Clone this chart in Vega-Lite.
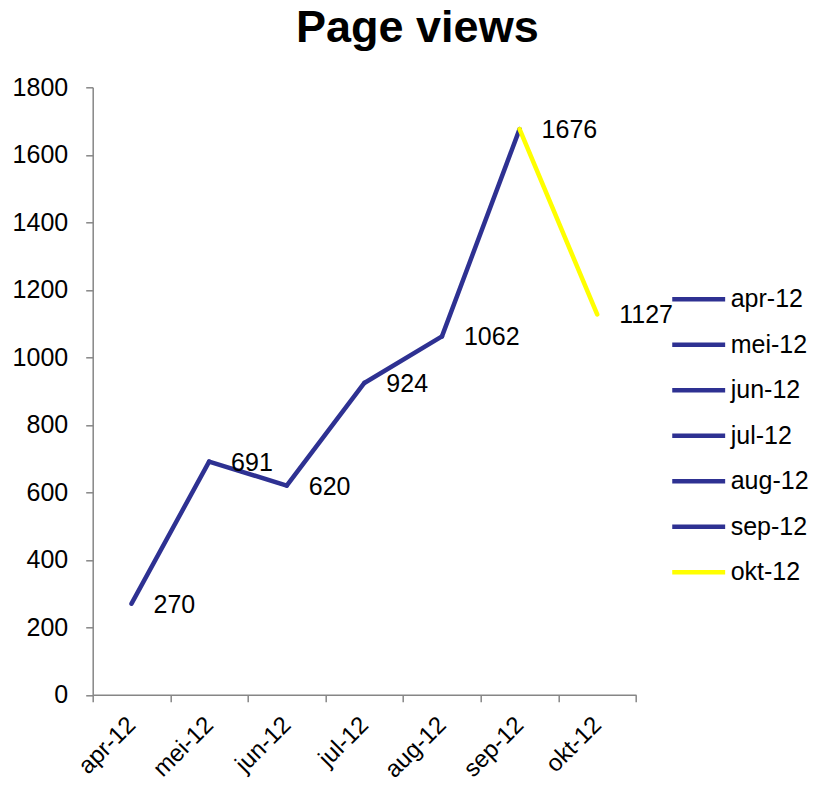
{
  "$schema": "https://vega.github.io/schema/vega-lite/v6.json",
  "autosize": "none",
  "width": 543.3,
  "height": 607.5,
  "padding": {"left": 92.7, "top": 87.3, "right": 179, "bottom": 90.2},
  "background": "white",
  "title": {
    "text": "Page views",
    "font": "Liberation Sans",
    "fontSize": 45,
    "fontWeight": "bold",
    "color": "black",
    "anchor": "middle",
    "frame": "group",
    "baseline": "bottom",
    "offset": 36,
    "dx": 53,
    "dy": 57
  },
  "config": {
    "view": {"stroke": null},
    "font": "Liberation Sans",
    "axis": {
      "grid": false,
      "domainColor": "#868686",
      "domainWidth": 1.5,
      "tickColor": "#868686",
      "tickWidth": 1.5,
      "tickSize": 7,
      "labelFont": "Liberation Sans",
      "labelFontSize": 25,
      "labelColor": "black",
      "title": null
    }
  },
  "datasets": {
    "points": [
      {"month": "apr-12", "views": 270},
      {"month": "mei-12", "views": 691},
      {"month": "jun-12", "views": 620},
      {"month": "jul-12", "views": 924},
      {"month": "aug-12", "views": 1062},
      {"month": "sep-12", "views": 1676},
      {"month": "okt-12", "views": 1127}
    ],
    "segments": [
      {"seg": "mei-12", "month": "apr-12", "views": 270},
      {"seg": "mei-12", "month": "mei-12", "views": 691},
      {"seg": "jun-12", "month": "mei-12", "views": 691},
      {"seg": "jun-12", "month": "jun-12", "views": 620},
      {"seg": "jul-12", "month": "jun-12", "views": 620},
      {"seg": "jul-12", "month": "jul-12", "views": 924},
      {"seg": "aug-12", "month": "jul-12", "views": 924},
      {"seg": "aug-12", "month": "aug-12", "views": 1062},
      {"seg": "sep-12", "month": "aug-12", "views": 1062},
      {"seg": "sep-12", "month": "sep-12", "views": 1676},
      {"seg": "okt-12", "month": "sep-12", "views": 1676},
      {"seg": "okt-12", "month": "okt-12", "views": 1127}
    ]
  },
  "layer": [
    {
      "data": {"name": "segments"},
      "mark": {"type": "line", "strokeWidth": 4.5, "strokeCap": "round"},
      "encoding": {
        "x": {
          "field": "month",
          "type": "ordinal",
          "sort": ["apr-12", "mei-12", "jun-12", "jul-12", "aug-12", "sep-12", "okt-12"],
          "bandPosition": 0.5,
          "scale": {"type": "band", "paddingInner": 0, "paddingOuter": 0},
          "axis": {
            "labelAngle": -45,
            "labelAlign": "right",
            "labelBaseline": "middle",
            "labelFontSize": 24,
            "labelPadding": 19,
            "tickBand": "extent"
          }
        },
        "y": {
          "field": "views",
          "type": "quantitative",
          "scale": {"domain": [0, 1800], "nice": false},
          "axis": {"values": [0, 200, 400, 600, 800, 1000, 1200, 1400, 1600, 1800], "format": "d", "labelPadding": 18}
        },
        "color": {
          "field": "seg",
          "type": "nominal",
          "scale": {
            "domain": ["apr-12", "mei-12", "jun-12", "jul-12", "aug-12", "sep-12", "okt-12"],
            "range": ["#2E3192", "#2E3192", "#2E3192", "#2E3192", "#2E3192", "#2E3192", "#FFFF00"]
          },
          "legend": {
            "title": null,
            "orient": "none",
            "legendX": 577,
            "legendY": 183,
            "symbolType": "stroke",
            "symbolSize": 2800,
            "symbolStrokeWidth": 4.5,
            "labelFont": "Liberation Sans",
            "labelFontSize": 25,
            "labelColor": "black",
            "labelOffset": 3,
            "rowPadding": 3.5
          }
        }
      }
    },
    {
      "data": {"name": "points"},
      "mark": {"type": "text", "align": "left", "baseline": "middle", "dx": 22, "dy": 1, "fontSize": 25, "font": "Liberation Sans", "color": "black"},
      "encoding": {
        "x": {"field": "month", "type": "ordinal", "sort": ["apr-12", "mei-12", "jun-12", "jul-12", "aug-12", "sep-12", "okt-12"], "bandPosition": 0.5},
        "y": {"field": "views", "type": "quantitative"},
        "text": {"field": "views", "type": "quantitative"}
      }
    }
  ]
}
